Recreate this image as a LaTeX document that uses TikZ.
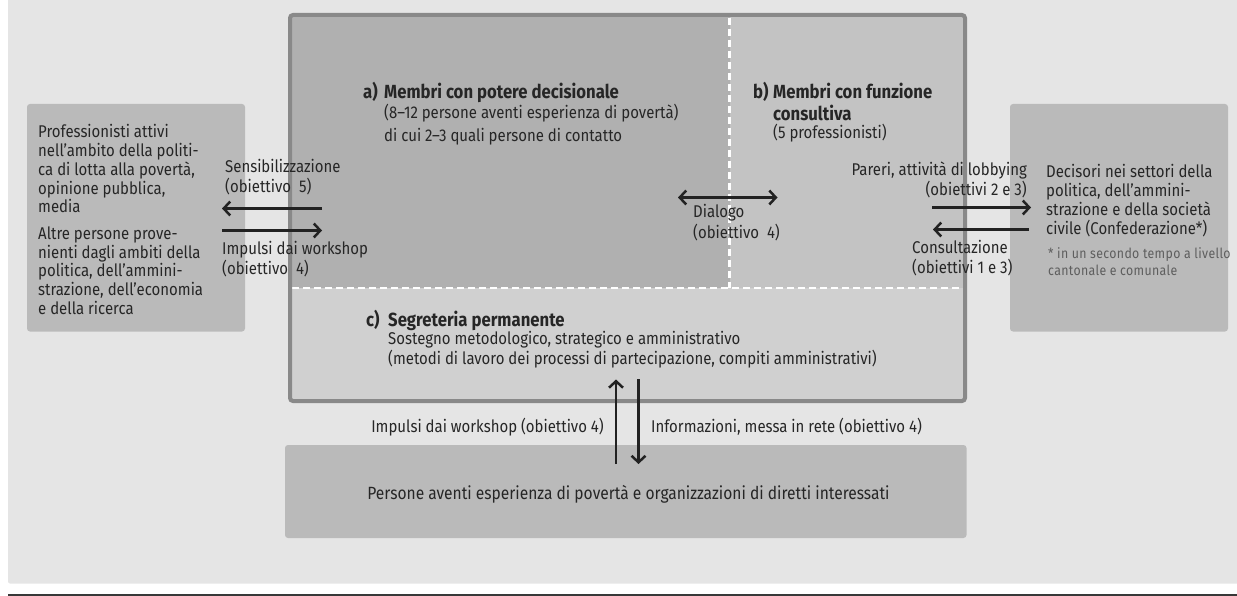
\documentclass[tikz,border=0pt]{standalone}
\usepackage{fontspec}
\setmainfont{Fira Sans}[FakeStretch=0.88]
\newfontfamily\notefont{Fira Sans}[FakeStretch=0.88, LetterSpace=2.5]
\usetikzlibrary{arrows.meta}
\definecolor{bgc}{HTML}{E5E5E5}
\definecolor{boxc}{HTML}{BABABA}
\definecolor{regA}{HTML}{B0B0B0}
\definecolor{regB}{HTML}{C3C3C3}
\definecolor{regC}{HTML}{D0D0D0}
\definecolor{borderc}{HTML}{898989}
\definecolor{txtc}{HTML}{262626}
\definecolor{notec}{HTML}{5E5E5E}
\definecolor{arrc}{HTML}{222222}
\newcommand\bodyfs[1]{\fontsize{17}{#1}\selectfont}
\newcommand\notefs{\notefont\fontsize{14}{16.5}\selectfont}
\newcommand\titlefs[1]{\fontsize{19}{#1}\selectfont\bfseries}
\newcommand\llines[1]{\begin{tabular}[t]{@{}l@{}}#1\end{tabular}}
\newcommand\rlines[1]{\begin{tabular}[t]{@{}r@{}}#1\end{tabular}}
\begin{document}
\begin{tikzpicture}[x=1pt,y=-1pt,
  txt/.style={anchor=base west, inner sep=0pt, text=txtc, font=\bodyfs{18.2}},
  rtxt/.style={anchor=base east, inner sep=0pt, text=txtc, font=\bodyfs{18.2}},
  notetxt/.style={txt, text=notec, font=\notefs},
  titletxt/.style={txt, font=\titlefs{22}},
  flow/.style={draw=arrc, line width=2.5pt, -{Straight Barb[length=6.5pt,width=14pt]}},
  flowboth/.style={draw=arrc, line width=2.5pt, {Straight Barb[length=6.5pt,width=14pt]}-{Straight Barb[length=6.5pt,width=14pt]}},
  sidebox/.style={fill=boxc, rounded corners=3pt},
  sep/.style={draw=white, line width=2.5pt, dash pattern=on 7pt off 4pt}]
\useasboundingbox (0,0) rectangle (1237,596);
% background
\fill[bgc, rounded corners=2pt] (8,-5) rectangle (1242,583.5);
\fill[arrc!90] (8,593.5) rectangle (1237,596);
% side boxes
\fill[sidebox] (27,104) rectangle (245,331.5);
\fill[sidebox] (1010,104) rectangle (1228,331.5);
\fill[sidebox] (285,445) rectangle (966.5,538);
% main container regions
\fill[regA] (290,15) rectangle (729.5,288);
\fill[regB] (729.5,15) rectangle (965,288);
\fill[regC] (290,288) rectangle (965,401);
\draw[sep] (729.5,18) -- (729.5,288);
\draw[sep] (292,288) -- (963,288);
\draw[borderc, line width=4pt, rounded corners=3pt] (290,15) rectangle (965,401);
% left box text
\node[txt, font=\bodyfs{17.9}] (left1) at (38,138) {\llines{Professionisti attivi\\nell’ambito della politi-\\ca di lotta alla povertà,\\opinione pubblica,\\media}};
\node[txt, font=\bodyfs{17.9}] (left2) at (38,239.5) {\llines{Altre persone prove-\\nienti dagli ambiti della\\politica, dell’ammini-\\strazione, dell’economia\\e della ricerca}};
% right box text
\node[txt, font=\bodyfs{18}] (right1) at (1046,177.5) {\llines{Decisori nei settori della\\politica, dell’ammini-\\strazione e della società\\civile (Confederazione*)}};
\node[notetxt] (note) at (1048,258.5) {\llines{* in un secondo tempo a livello\\cantonale e comunale}};
% bottom box text
\node[anchor=base, inner sep=0pt, text=txtc, font=\fontsize{17.7}{20}\selectfont] (bottom) at (628.5,499) {Persone aventi esperienza di povertà e organizzazioni di diretti interessati};
% region titles
\node[titletxt] (ta) at (363,98.5) {a)};
\node[titletxt] (tam) at (384,98.5) {Membri con potere decisionale};
\node[txt, font=\bodyfs{23.4}] (sa) at (384,118.5) {\llines{(8–12 persone aventi esperienza di povertà)\\di cui 2–3 quali persone di contatto}};
\node[titletxt] (tb) at (753,98.5) {b)};
\node[titletxt] (tbm) at (773,98.5) {\llines{Membri con funzione\\consultiva}};
\node[txt] (sb) at (773,138.5) {(5 professionisti)};
\node[titletxt] (tc) at (366,326) {c)};
\node[titletxt] (tcm) at (388,326) {Segreteria permanente};
\node[txt, font=\bodyfs{20}] (sc) at (388,344.5) {\llines{Sostegno metodologico, strategico e amministrativo\\(metodi di lavoro dei processi di partecipazione, compiti amministrativi)}};
% left arrows
\coordinate (la1) at (322,208.5);
\coordinate (la2) at (222,208.5);
\coordinate (lb1) at (222,230.5);
\coordinate (lb2) at (322,230.5);
\draw[flow] (la1) -- (la2);
\draw[flow] (lb1) -- (lb2);
\node[txt, font=\bodyfs{18.6}] (sens) at (225,172.5) {\llines{Sensibilizzazione\\(obiettivo~~5)}};
\node[txt, font=\bodyfs{18.6}] (impl) at (222,254.5) {\llines{Impulsi dai workshop\\(obiettivo~~4)}};
% dialog arrow
\coordinate (da1) at (678,197.5);
\coordinate (da2) at (777.5,197.5);
\draw[flowboth] (da1) -- (da2);
\node[txt, font=\bodyfs{19}] (dial) at (693,218) {\llines{Dialogo\\(obiettivo~~4)}};
% right arrows
\coordinate (ra1) at (932,207.5);
\coordinate (ra2) at (1031,207.5);
\coordinate (rb1) at (1029,229.5);
\coordinate (rb2) at (933,229.5);
\draw[flow] (ra1) -- (ra2);
\draw[flow] (rb1) -- (rb2);
\node[rtxt, font=\bodyfs{19.5}] (par) at (1027,175.5) {\rlines{Pareri, attività di lobbying\\(obiettivi 2 e 3)}};
\node[txt, font=\bodyfs{18}] (cons) at (912,253.5) {\llines{Consultazione\\(obiettivi 1 e 3)}};
% vertical arrows
\coordinate (va1) at (616,464);
\coordinate (va2) at (616,379.5);
\coordinate (vb1) at (638.5,379);
\coordinate (vb2) at (638.5,464);
\draw[flow] (va1) -- (va2);
\draw[flow] (vb1) -- (vb2);
\node[rtxt] (impb) at (604,432) {Impulsi dai workshop (obiettivo 4)};
\node[txt] (info) at (651,432) {Informazioni, messa in rete (obiettivo 4)};
\end{tikzpicture}
\end{document}
